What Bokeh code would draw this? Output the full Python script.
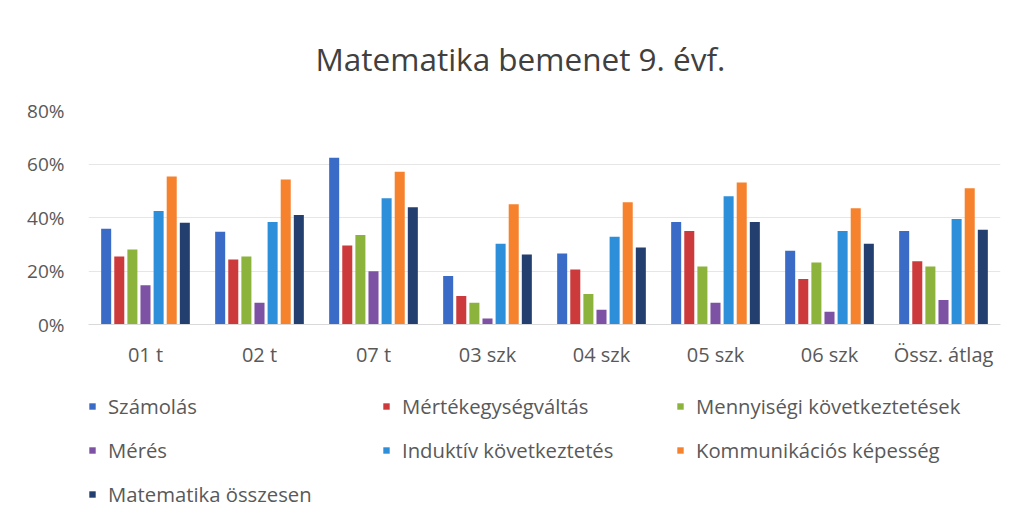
from bokeh.plotting import figure
from bokeh.layouts import column
from bokeh.models import FactorRange, Legend, LegendItem, NumeralTickFormatter, FixedTicker, Range1d
from bokeh.transform import dodge
from bokeh.embed import file_html
from bokeh.resources import INLINE

categories = ["01 t", "02 t", "07 t", "03 szk", "04 szk", "05 szk", "06 szk", "Össz. átlag"]
series_names = ["Számolás", "Mértékegységváltás", "Mennyiségi következtetések", "Mérés",
                "Induktív következtetés", "Kommunikációs képesség", "Matematika összesen"]
szamolas = [0.358, 0.347, 0.623, 0.181, 0.265, 0.383, 0.276, 0.350]
mertekegyseg = [0.254, 0.243, 0.295, 0.107, 0.206, 0.350, 0.170, 0.236]
mennyisegi = [0.280, 0.254, 0.335, 0.081, 0.114, 0.217, 0.232, 0.217]
meres = [0.147, 0.081, 0.199, 0.022, 0.055, 0.081, 0.048, 0.092]
induktiv = [0.424, 0.383, 0.472, 0.302, 0.328, 0.479, 0.350, 0.394]
kommunikacios = [0.553, 0.542, 0.571, 0.450, 0.457, 0.531, 0.435, 0.509]
osszesen = [0.380, 0.409, 0.438, 0.262, 0.288, 0.383, 0.302, 0.354]
y_ticks = [0, 0.2, 0.4, 0.6, 0.8]

series_values = [szamolas, mertekegyseg, mennyisegi, meres, induktiv, kommunikacios, osszesen]
colors = ["#3A6BC6", "#CC3A3C", "#8CB43C", "#7D51A3", "#2D8ED9", "#F6822D", "#223F6F"]
FONT = "Open Sans"

data = {"cat": categories}
for i, vals in enumerate(series_values):
    data[f"s{i}"] = vals

# main chart
p = figure(x_range=FactorRange(*categories, range_padding=0.0), y_range=(0, 0.8),
           width=1003, height=370, output_backend="svg", toolbar_location=None,
           min_border_left=88, min_border_right=3, min_border_top=110, min_border_bottom=44)
p.outline_line_color = None
p.background_fill_color = "white"

step = 0.115
for i in range(7):
    p.vbar(x=dodge("cat", (i - 3) * step, range=p.x_range), top=f"s{i}", width=0.088,
           source=data, fill_color=colors[i], line_color=None)

p.title.text = "Matematika bemenet 9. évf."
p.title.align = "left"
p.title.text_font = FONT
p.title.text_font_size = "31.5px"
p.title.text_font_style = "normal"
p.title.text_color = "#404040"
p.title.offset = 227
p.title.standoff = 62

p.yaxis.ticker = FixedTicker(ticks=y_ticks)
p.yaxis.formatter = NumeralTickFormatter(format="0%")
p.yaxis.axis_line_color = None
p.yaxis.major_tick_line_color = None
p.yaxis.minor_tick_line_color = None
p.yaxis.major_label_text_font = FONT
p.yaxis.major_label_text_font_size = "19px"
p.yaxis.major_label_text_color = "#595959"
p.yaxis.major_label_standoff = 18

p.xaxis.axis_line_color = "#D9D9D9"
p.xaxis.major_tick_line_color = None
p.xaxis.minor_tick_line_color = None
p.xaxis.major_label_text_font = FONT
p.xaxis.major_label_text_font_size = "20px"
p.xaxis.major_label_text_color = "#595959"
p.xaxis.major_label_standoff = 10

p.xgrid.grid_line_color = None
p.ygrid.grid_line_color = "#E6E6E6"

# legend panel (legend proxies are zero-size, invisible glyphs)
p2 = figure(x_range=Range1d(0, 1), y_range=Range1d(0, 1), width=1003, height=138,
            output_backend="svg", toolbar_location=None,
            min_border_left=0, min_border_right=0, min_border_top=0, min_border_bottom=0)
p2.axis.visible = False
p2.grid.visible = False
p2.outline_line_color = None
legend_renderers = []
for i in range(7):
    r = p2.vbar(x=[0], top=[0], bottom=[0], width=0, fill_color=colors[i], line_color=None)
    legend_renderers.append(r)

items = [LegendItem(label=series_names[i], renderers=[legend_renderers[i]]) for i in range(7)]
legend = Legend(items=items, ncols=3, orientation="horizontal", location=(0, 0),
                label_text_font=FONT, label_text_font_size="20.3px", label_text_color="#595959",
                glyph_width=8, glyph_height=8, label_standoff=12, label_width=258,
                label_height=20, spacing=16, padding=0, margin=0,
                border_line_color=None, background_fill_alpha=0)
p2.add_layout(legend, "center")

layout = column(p, p2, spacing=0)
open("out.html", "w").write(file_html(layout, INLINE))
